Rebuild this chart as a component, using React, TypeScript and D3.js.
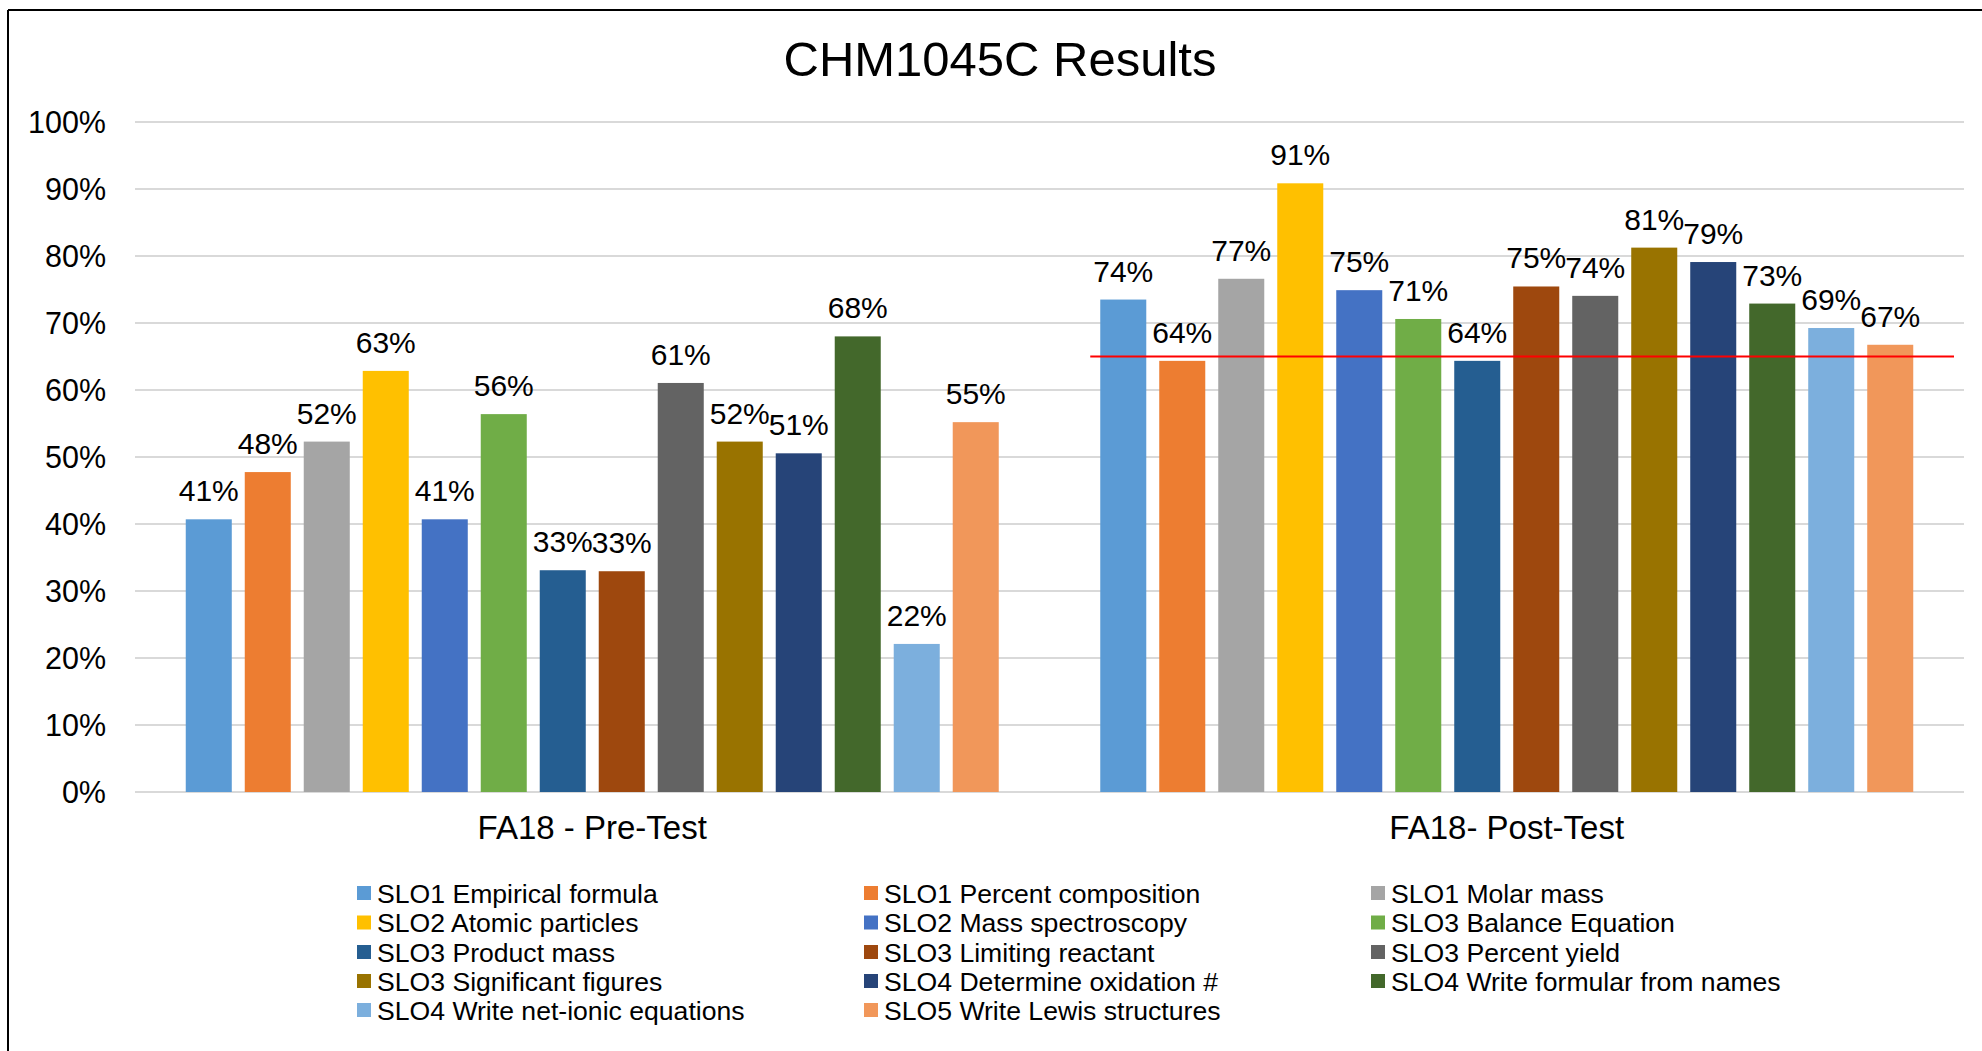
import React from "react";
import * as d3 from "d3";

const categories = ["FA18 - Pre-Test", "FA18- Post-Test"];
const seriesNames = [
  "SLO1 Empirical formula",
  "SLO1 Percent composition",
  "SLO1 Molar mass",
  "SLO2 Atomic particles",
  "SLO2 Mass spectroscopy",
  "SLO3 Balance Equation",
  "SLO3 Product mass",
  "SLO3 Limiting reactant",
  "SLO3 Percent yield",
  "SLO3 Significant figures",
  "SLO4 Determine oxidation #",
  "SLO4 Write formular from names",
  "SLO4 Write net-ionic equations",
  "SLO5 Write Lewis structures",
];
const preTest = [0.407, 0.4775, 0.523, 0.6285, 0.407, 0.564, 0.331, 0.3295, 0.6105, 0.523, 0.5055, 0.68, 0.221, 0.552];
const postTest = [0.735, 0.6435, 0.766, 0.9085, 0.749, 0.706, 0.6435, 0.7545, 0.7405, 0.8125, 0.791, 0.729, 0.6925, 0.6675];
const colors = [
  "#5B9BD5", "#ED7D31", "#A5A5A5", "#FFC000", "#4472C4", "#70AD47", "#255E91",
  "#9E480E", "#636363", "#997300", "#264478", "#43682B", "#7CAFDD", "#F1975A",
];
const yTicks = [0, 0.1, 0.2, 0.3, 0.4, 0.5, 0.6, 0.7, 0.8, 0.9, 1.0];
const targetValue = 0.65;
const title = "CHM1045C Results";

const W = 1982;
const H = 1051;
const FONT = "'Liberation Sans', Arial, sans-serif";

export default function App() {
  const plotLeft = 135;
  const plotRight = 1964;
  const y = d3.scaleLinear().domain([0, 1]).range([792, 122]);
  const x0 = d3
    .scaleBand<string>()
    .domain(categories)
    .range([plotLeft, plotRight])
    .paddingInner(0.111)
    .paddingOuter(0.0555);
  const x1 = d3
    .scaleBand<string>()
    .domain(seriesNames)
    .range([0, x0.bandwidth()])
    .paddingInner(0.22)
    .paddingOuter(0);
  const values = [preTest, postTest];
  const fmt = d3.format(".0%");

  const legendCols = [357, 864, 1371];
  const legendRows = [893, 922.5, 952, 981, 1010];

  const postX = x0(categories[1])!;

  return (
    <div style={{ position: "fixed", left: 0, top: 0 }}>
      <svg width={W} height={H} style={{ display: "block", background: "#fff" }} fontFamily={FONT}>
        <rect x={0} y={0} width={W} height={H} fill="#fff" />
        {/* border */}
        <line x1={8} x2={W} y1={10} y2={10} stroke="#000" strokeWidth={2} />
        <line x1={8} x2={8} y1={10} y2={H} stroke="#000" strokeWidth={2} />
        <text x={1000} y={76} textAnchor="middle" fontSize={49} fill="#000">
          {title}
        </text>
        {/* gridlines & ticks */}
        {yTicks.map((t) => (
          <g key={t}>
            <line x1={plotLeft} x2={plotRight} y1={y(t)} y2={y(t)} stroke="#D9D9D9" strokeWidth={2} />
            <text x={106} y={y(t)} dy="0.36em" textAnchor="end" fontSize={30.5} fill="#000">
              {fmt(t)}
            </text>
          </g>
        ))}
        {/* bars */}
        {categories.map((c, ci) => (
          <g key={c} transform={`translate(${x0(c)},0)`}>
            {seriesNames.map((s, si) => {
              const v = values[ci][si];
              const bx = x1(s)!;
              return (
                <g key={s}>
                  <rect x={bx} y={y(v)} width={x1.bandwidth()} height={y(0) - y(v)} fill={colors[si]} />
                  <text
                    x={bx + x1.bandwidth() / 2}
                    y={y(v) - 18}
                    textAnchor="middle"
                    fontSize={30}
                    fill="#000"
                  >
                    {fmt(v)}
                  </text>
                </g>
              );
            })}
            <text x={x0.bandwidth() / 2} y={839} textAnchor="middle" fontSize={33} fill="#000">
              {c}
            </text>
          </g>
        ))}
        {/* target line */}
        <line
          x1={postX + (x1(seriesNames[0]) ?? 0) - 10}
          x2={plotRight - 10}
          y1={y(targetValue)}
          y2={y(targetValue)}
          stroke="#FF0000"
          strokeWidth={2}
        />
        {/* legend */}
        {seriesNames.map((s, i) => {
          const col = i % 3;
          const row = Math.floor(i / 3);
          const lx = legendCols[col];
          const ly = legendRows[row];
          return (
            <g key={s}>
              <rect x={lx} y={ly - 7} width={14} height={14} fill={colors[i]} />
              <text x={lx + 20} y={ly} dy="0.36em" fontSize={26.6} fill="#000">
                {s}
              </text>
            </g>
          );
        })}
      </svg>
    </div>
  );
}
